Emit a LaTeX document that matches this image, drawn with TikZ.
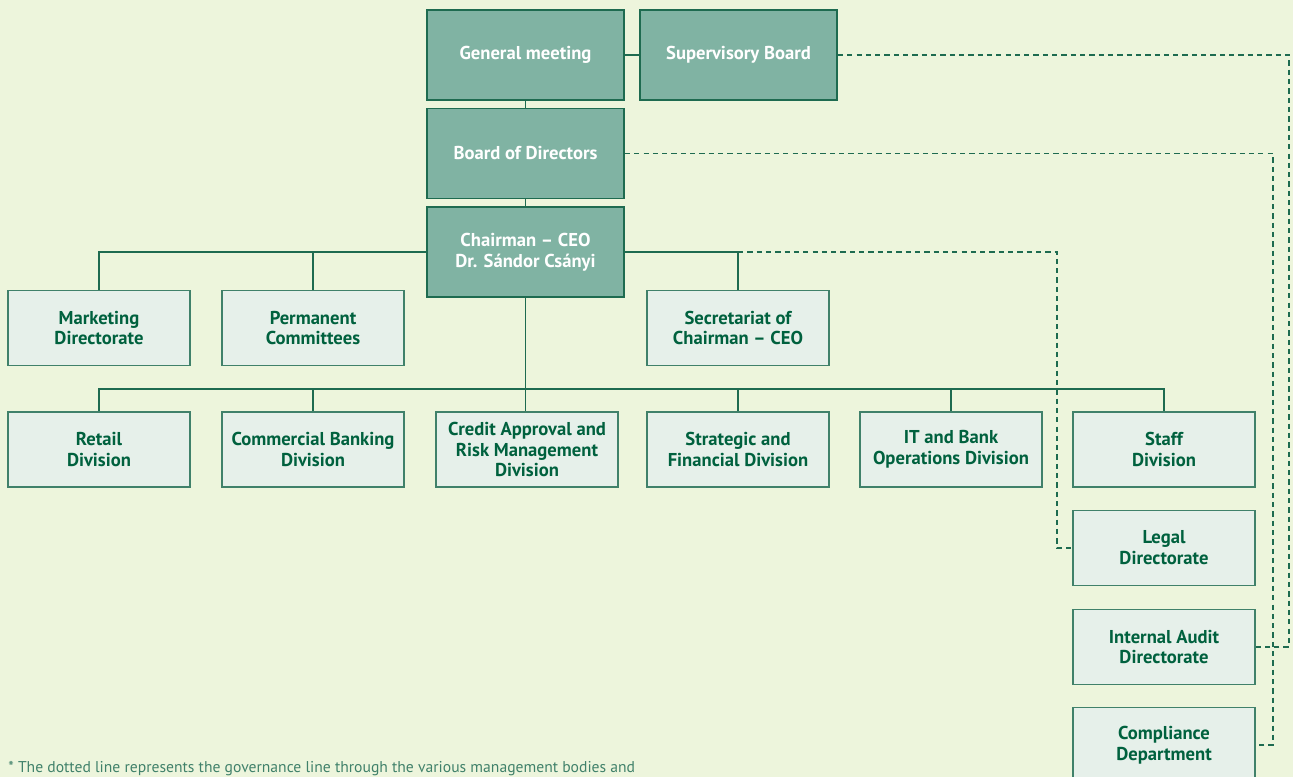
\documentclass[tikz,border=0pt]{standalone}
\usepackage{fontspec}
\setmainfont{PT Sans}
\usepackage{tikz}
\usetikzlibrary{positioning, calc}
\definecolor{bggreen}{RGB}{237,245,220}
\definecolor{otpdark}{RGB}{0,97,62}
\definecolor{otpmid}{RGB}{128,179,163}
\definecolor{otplight}{RGB}{230,240,234}
\definecolor{otpline}{RGB}{30,107,80}

\begin{document}
\begin{tikzpicture}[
  topbox/.style={draw=otpline, line width=1pt, fill=otpmid, minimum width=3.94cm, minimum height=1.8cm, align=center, text=white, font=\fontsize{10.6}{11.9}\selectfont\bfseries},
  unitbox/.style={draw=otpline!85, line width=1pt, fill=otplight, minimum width=3.64cm, minimum height=1.5cm, align=center, text=otpdark, font=\fontsize{10.6}{11.9}\selectfont\bfseries},
  link/.style={draw=otpline, line width=1pt},
  govline/.style={draw=otpline, line width=1pt, dash pattern=on 3pt off 2.3pt}
]
  \path[fill=bggreen, use as bounding box] (0,0) rectangle (25.86,-15.54);

  \node[topbox] (gm) at (10.51, -1.1) {General meeting};
  \node[topbox] (sb) at (14.77, -1.1) {Supervisory Board};
  \node[topbox] (bod) at (10.51, -3.07) {Board of Directors};
  \node[topbox] (ceo) at (10.51, -5.04) {Chairman -- CEO\\Dr. Sándor Csányi};

  \node[unitbox] (mkt) at (1.98, -6.56) {Marketing\\Directorate};
  \node[unitbox] (perm) at (6.26, -6.56) {Permanent\\Committees};
  \node[unitbox] (sec) at (14.76, -6.56) {Secretariat of\\Chairman -- CEO};

  \node[unitbox] (retail) at (1.98, -8.99) {Retail\\Division};
  \node[unitbox] (comm) at (6.26, -8.99) {Commercial Banking\\Division};
  \node[unitbox] (credit) at (10.54, -8.99) {Credit Approval and\\Risk Management\\Division};
  \node[unitbox] (strat) at (14.76, -8.99) {Strategic and\\Financial Division};
  \node[unitbox] (itops) at (19.02, -8.99) {IT and Bank\\Operations Division};
  \node[unitbox] (staff) at (23.28, -8.99) {Staff\\Division};

  \node[unitbox] (legal) at (23.28, -10.96) {Legal\\Directorate};
  \node[unitbox] (audit) at (23.28, -12.94) {Internal Audit\\Directorate};
  \node[unitbox] (comp) at (23.28, -14.9) {Compliance\\Department};

  \draw[link] (gm) -- (sb);
  \draw[link] (gm) -- (bod);
  \draw[link] (bod) -- (ceo);
  \draw[link] (ceo.west) -| (mkt.north);
  \draw[link] (perm.north) -- (perm.north |- ceo.west);
  \draw[link] (ceo.east) -| (sec.north);
  \draw[link] (ceo.south) -- (ceo.south |- credit.north);
  \draw[link] (retail.north) -- ++(0,0.44) -| (staff.north);
  \foreach \u in {comm, strat, itops}
    \draw[link] (\u.north) -- ++(0,0.44);

  \draw[govline] (sec.north |- ceo.east) -| ($(legal.west)+(-0.3,0)$) -- (legal.west);
  \draw[govline] (sb.east) -| ($(audit.east)+(0.66,0)$) -- (audit.east);
  \draw[govline] (bod.east) -| ($(comp.east)+(0.34,0)$) -- (comp.east);

  \node[anchor=base west, inner sep=0pt, font=\fontsize{8.9}{10}\selectfont, text=otpline!85] (note) at (0.16, -15.44) {* The dotted line represents the governance line through the various management bodies and};
\end{tikzpicture}
\end{document}
